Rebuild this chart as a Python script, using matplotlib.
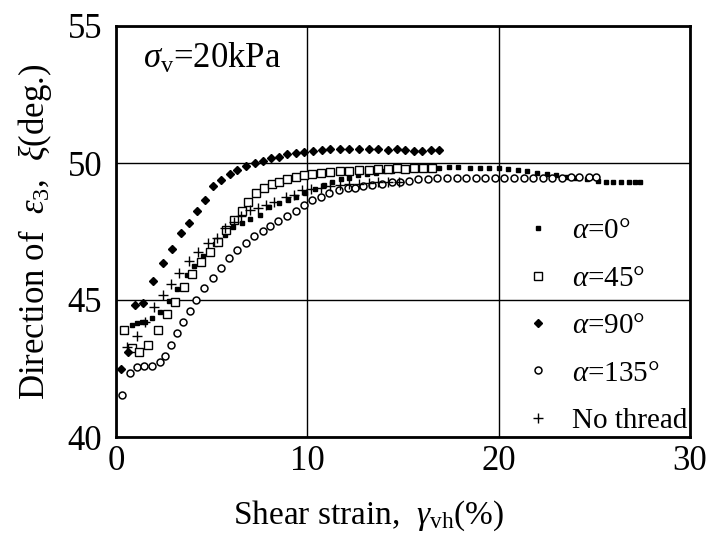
import matplotlib
matplotlib.use("Agg")
import matplotlib.pyplot as plt

plt.rcParams['font.family'] = ['Liberation Serif', 'DejaVu Serif']
plt.rcParams['mathtext.fontset'] = 'custom'
plt.rcParams['mathtext.rm'] = 'Liberation Serif'
plt.rcParams['mathtext.it'] = 'Liberation Serif:italic'

# alpha = 0 deg (small filled squares)
x_a0 = [0.83, 1.1, 1.35, 1.5, 1.87, 2.3, 2.76, 3.2, 3.7, 4.1, 4.55, 5.16, 5.68, 6.1,
        6.56, 7.0, 7.5, 8.0, 8.54, 9.0, 9.4, 9.9, 10.4, 10.85, 11.3, 11.75, 12.2,
        12.65, 13.1, 13.6, 14.0, 14.45, 14.9, 15.3, 15.8, 16.3, 16.9, 17.4, 17.9,
        18.5, 19.0, 19.5, 20.0, 20.5, 21.0, 21.5, 22.0, 22.5, 23.0, 23.5, 24.0,
        24.6, 25.2, 25.6, 26.0, 26.4, 26.8, 27.1, 27.4]
y_a0 = [44.1, 44.15, 44.2, 44.2, 44.35, 44.55, 44.96, 45.4, 45.9, 46.25, 46.6, 47.05,
        47.37, 47.66, 47.8, 47.95, 48.1, 48.4, 48.54, 48.65, 48.76, 48.9, 49.05,
        49.2, 49.3, 49.4, 49.47, 49.55, 49.6, 49.65, 49.7, 49.72, 49.75, 49.8, 49.8,
        49.82, 49.82, 49.85, 49.85, 49.82, 49.82, 49.8, 49.8, 49.78, 49.75, 49.7,
        49.65, 49.6, 49.55, 49.5, 49.45, 49.4, 49.35, 49.3, 49.3, 49.3, 49.3, 49.3,
        49.3]

# alpha = 45 deg (open squares)
x_a45 = [0.4, 0.83, 1.2, 1.67, 2.2, 2.66, 3.07, 3.54, 3.96, 4.43, 4.9, 5.31, 5.73,
         6.15, 6.56, 6.88, 7.34, 7.71, 8.13, 8.54, 8.96, 9.43, 9.84, 10.26, 10.7,
         11.2, 11.7, 12.2, 12.7, 13.2, 13.7, 14.2, 14.7, 15.1, 15.6, 16.05, 16.5]
y_a45 = [43.9, 43.25, 43.1, 43.35, 43.9, 44.5, 44.93, 45.47, 45.95, 46.39, 46.75,
         47.12, 47.55, 47.92, 48.25, 48.58, 48.9, 49.09, 49.23, 49.31, 49.42, 49.49,
         49.55, 49.6, 49.63, 49.66, 49.7, 49.72, 49.75, 49.75, 49.78, 49.78, 49.8,
         49.78, 49.8, 49.8, 49.8]

# alpha = 90 deg (filled diamonds)
x_a90 = [0.26, 0.63, 1.0, 1.4, 1.93, 2.45, 2.92, 3.39, 3.8, 4.22, 4.64, 5.05, 5.5,
         5.94, 6.35, 6.8, 7.24, 7.66, 8.1, 8.54, 8.96, 9.43, 9.84, 10.3, 10.75, 11.2,
         11.7, 12.2, 12.7, 13.2, 13.7, 14.2, 14.7, 15.1, 15.55, 16.0, 16.45, 16.9]
y_a90 = [42.5, 43.1, 44.8, 44.9, 45.7, 46.35, 46.85, 47.45, 47.8, 48.25, 48.65, 49.15,
         49.38, 49.6, 49.75, 49.9, 50.0, 50.08, 50.18, 50.23, 50.32, 50.37, 50.4,
         50.45, 50.47, 50.5, 50.5, 50.5, 50.5, 50.5, 50.5, 50.48, 50.5, 50.48, 50.45,
         50.45, 50.47, 50.47]

# alpha = 135 deg (open circles)
x_a135 = [0.3, 0.73, 1.1, 1.45, 1.87, 2.3, 2.55, 2.9, 3.2, 3.5, 3.85, 4.2, 4.6, 5.05,
          5.47, 5.9, 6.35, 6.77, 7.19, 7.66, 8.07, 8.49, 8.96, 9.43, 9.84, 10.26,
          10.73, 11.15, 11.67, 12.1, 12.5, 12.9, 13.4, 13.9, 14.4, 14.85, 15.3, 15.8,
          16.3, 16.8, 17.3, 17.8, 18.3, 18.8, 19.3, 19.8, 20.3, 20.8, 21.3, 21.8,
          22.3, 22.8, 23.3, 23.8, 24.2, 24.7, 25.1]
y_a135 = [41.55, 42.35, 42.55, 42.6, 42.6, 42.75, 42.95, 43.35, 43.8, 44.2, 44.6, 45.0,
          45.45, 45.8, 46.17, 46.53, 46.82, 47.08, 47.34, 47.52, 47.7, 47.88, 48.07,
          48.25, 48.47, 48.65, 48.76, 48.9, 49.01, 49.07, 49.1, 49.15, 49.2, 49.25,
          49.3, 49.3, 49.35, 49.4, 49.42, 49.45, 49.45, 49.47, 49.47, 49.47, 49.47,
          49.47, 49.47, 49.47, 49.47, 49.47, 49.47, 49.47, 49.47, 49.5, 49.5, 49.5,
          49.5]

# no thread (plus)
x_nt = [0.57, 1.1, 1.5, 2.0, 2.45, 2.9, 3.3, 3.8, 4.27, 4.79, 5.26, 5.68, 6.15, 6.55,
        6.98, 7.4, 7.86, 8.28, 8.9, 9.3, 9.7, 10.2, 10.7, 11.2, 11.7, 12.2, 12.7,
        13.2, 13.7, 14.2, 14.8]
y_nt = [43.3, 43.7, 44.2, 44.75, 45.2, 45.6, 46.0, 46.42, 46.75, 47.08, 47.26, 47.63,
        47.85, 48.05, 48.28, 48.35, 48.47, 48.58, 48.76, 48.85, 49.0, 49.05, 49.1,
        49.15, 49.2, 49.22, 49.25, 49.27, 49.3, 49.3, 49.32]

x_ticks = [0, 10, 20, 30]
y_ticks = [40, 45, 50, 55]

fig = plt.figure(figsize=(7.06, 5.53), dpi=100)
ax = fig.add_axes([116 / 706, 116 / 553, 574 / 706, 411 / 553])

ax.plot(x_a0, y_a0, ls='none', marker='s', ms=3.4, mfc='black', mec='black',
        label=r'$\alpha$=0°')
ax.plot(x_a45, y_a45, ls='none', marker='s', ms=6, mfc='white', mec='black',
        mew=1.0, label=r'$\alpha$=45°')
ax.plot(x_a90, y_a90, ls='none', marker='D', ms=4.2, mfc='black', mec='black',
        label=r'$\alpha$=90°')
ax.plot(x_a135, y_a135, ls='none', marker='o', ms=5, mfc='white', mec='black',
        mew=1.1, label=r'$\alpha$=135°')
ax.plot(x_nt, y_nt, ls='none', marker='+', ms=7, mec='black', mew=1.0,
        label='No thread')

ax.set_xlim(0, 30)
ax.set_ylim(40, 55)
ax.set_xticks(x_ticks)
ax.set_yticks(y_ticks)
ax.tick_params(length=0, labelsize=25)
ax.tick_params(axis='x', pad=6)
ax.tick_params(axis='y', pad=10)
ax.grid(True, color='black', linewidth=1.0)
for sp in ax.spines.values():
    sp.set_linewidth(2)

ax.text(1.4, 53.8, r'$\sigma_{\mathrm{v}}$=20kPa', fontsize=25, va='center')

ax.set_xlabel(r'Shear strain,  $\gamma_{\mathrm{vh}}$(%)', fontsize=24)
ax.xaxis.set_label_coords(0.44, -0.15)
ax.set_ylabel(r'Direction of  $\varepsilon_{3}$,  $\xi$(deg.)', fontsize=25,
              labelpad=10)

ax.legend(loc='lower right', frameon=False, fontsize=21, numpoints=1,
          handlelength=0.6, handletextpad=0.85, labelspacing=0.72,
          borderaxespad=0.0, borderpad=0.1)

fig.savefig('out.png', dpi=100)
